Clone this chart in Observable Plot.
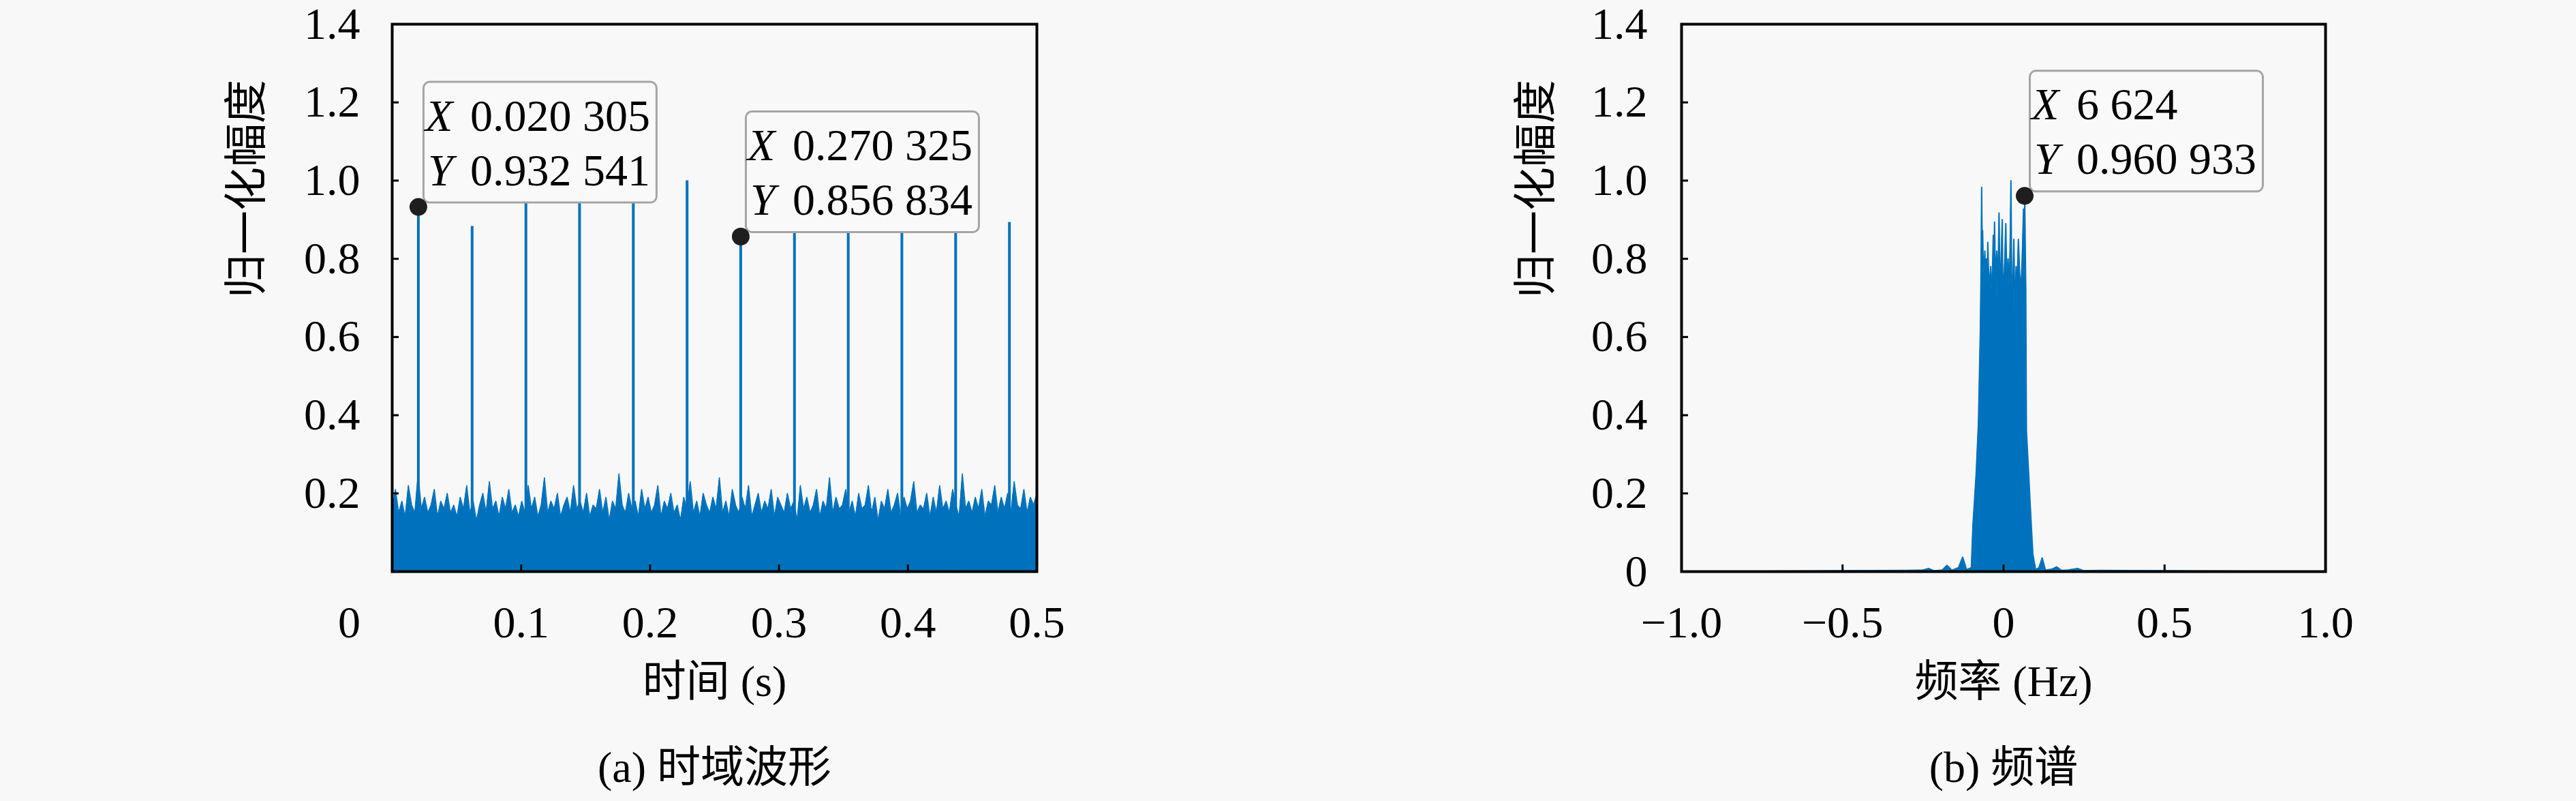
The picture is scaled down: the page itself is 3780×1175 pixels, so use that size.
<!DOCTYPE html>
<html><head><meta charset="utf-8">
<script src="https://cdn.jsdelivr.net/npm/d3@7"></script>
<script src="https://cdn.jsdelivr.net/npm/@observablehq/plot@0.6"></script>
<style>
body{margin:0;background:#f8f8f8;}
#wrap{display:flex;width:3780px;height:1175px;background:#f8f8f8;}
</style>
</head><body><div id="wrap"></div>
<script>
// ---------- data: panel (a) time-domain waveform ----------
const noiseAmp = [
0.16,0.21,0.15,0.18,0.14,0.22,0.17,0.15,0.25,0.16,0.19,0.15,0.17,0.21,0.14,0.18,0.16,0.20,0.15,0.17,
0.14,0.19,0.16,0.22,0.15,0.18,0.13,0.17,0.20,0.15,0.23,0.16,0.18,0.14,0.19,0.16,0.21,0.15,0.17,0.14,
0.18,0.15,0.22,0.16,0.19,0.14,0.17,0.24,0.15,0.18,0.16,0.20,0.14,0.17,0.19,0.15,0.22,0.16,0.18,0.15,
0.20,0.14,0.17,0.16,0.21,0.15,0.19,0.13,0.18,0.16,0.25,0.17,0.15,0.20,0.16,0.18,0.14,0.21,0.16,0.19,
0.15,0.17,0.22,0.14,0.18,0.16,0.20,0.15,0.17,0.13,0.19,0.16,0.23,0.15,0.18,0.14,0.20,0.17,0.15,0.19,
0.16,0.24,0.15,0.18,0.14,0.21,0.17,0.15,0.19,0.16,0.22,0.14,0.17,0.20,0.15,0.18,0.16,0.21,0.14,0.19,
0.17,0.15,0.20,0.16,0.18,0.13,0.22,0.16,0.19,0.15,0.17,0.21,0.14,0.18,0.16,0.24,0.15,0.19,0.16,0.17,
0.21,0.15,0.18,0.14,0.20,0.16,0.17,0.22,0.15,0.19,0.13,0.18,0.16,0.21,0.15,0.17,0.20,0.14,0.19,0.16,
0.18,0.23,0.15,0.17,0.16,0.20,0.14,0.19,0.15,0.22,0.16,0.18,0.15,0.21,0.17,0.14,0.25,0.16,0.18,0.15,
0.19,0.16,0.21,0.14,0.18,0.17,0.22,0.15,0.19,0.16,0.20,0.15,0.23,0.17,0.16,0.21,0.15,0.19,0.17,0.20
];
const noiseDuration = 0.5;
const spikeTime = [0.0203,0.0620,0.1037,0.1453,0.1870,0.2287,0.2703,0.3120,0.3537,0.3953,0.4370,0.4787];
const spikeAmp  = [0.9325,0.883,0.97,0.96,0.98,1.0,0.8568,0.95,0.93,0.96,0.94,0.893];
const annAX = [0.020305, 0.270325];
const annAY = [0.932541, 0.856834];
const annAXText = ["0.020 305", "0.270 325"];
const annAYText = ["0.932 541", "0.856 834"];
const xTicksA = [0, 0.1, 0.2, 0.3, 0.4, 0.5];
const yTicksA = [0.2, 0.4, 0.6, 0.8, 1.0, 1.2, 1.4];

// ---------- data: panel (b) spectrum ----------
const specF = [-1,-0.5,-0.3,-0.25,-0.233,-0.215,-0.19,-0.176,-0.16,-0.14,-0.127,-0.115,-0.1,-0.095,-0.085,-0.078,-0.072,-0.070,-0.068,-0.066,-0.065,-0.062,-0.058,-0.055,-0.053,-0.051,-0.049,-0.045,-0.040,-0.036,-0.032,-0.030,-0.028,-0.025,-0.021,-0.018,-0.014,-0.011,-0.008,-0.004,-0.002,0.001,0.004,0.007,0.010,0.014,0.018,0.021,0.023,0.025,0.028,0.032,0.035,0.039,0.042,0.046,0.050,0.054,0.058,0.062,0.064,0.0656,0.069,0.071,0.078,0.086,0.091,0.0995,0.11,0.12,0.13,0.15,0.165,0.18,0.2,0.23,0.25,0.3,0.5,1];
const specA = [0,0.002,0.003,0.004,0.008,0.002,0.004,0.016,0.003,0.01,0.037,0.005,0.01,0.12,0.25,0.38,0.62,0.76,0.983,0.78,0.872,0.74,0.82,0.72,0.80,0.70,0.842,0.72,0.78,0.70,0.86,0.75,0.894,0.74,0.82,0.70,0.917,0.72,0.78,0.90,0.66,0.75,0.80,0.89,0.74,0.80,0.73,0.86,1.0,0.76,0.70,0.85,0.66,0.78,0.72,0.85,0.76,0.72,0.80,0.927,0.78,0.961,0.72,0.36,0.25,0.12,0.045,0.005,0.01,0.035,0.004,0.006,0.012,0.003,0.004,0.008,0.002,0.003,0.002,0];
const annBX = [0.0656];
const annBY = [0.960933];
const annBXText = ["6 624"];
const annBYText = ["0.960 933"];
const xTicksB = [-1, -0.5, 0, 0.5, 1];
const yTicksB = [0, 0.2, 0.4, 0.6, 0.8, 1.0, 1.2, 1.4];

// ---------- drawing ----------
const blue = "#0072BD";
const font = "'Liberation Serif','Noto Sans CJK SC',serif";
const fmtY = d => d === 0 ? "0" : d.toFixed(1);
const fmtXA = d => d === 0 ? "0" : d.toFixed(1);
const fmtXB = d => d === 0 ? "0" : (d < 0 ? "\u2212" : "") + Math.abs(d).toFixed(1);

const noiseData = noiseAmp.map((a, i) => ({t: i * noiseDuration / (noiseAmp.length - 1), a}));
const spikes = spikeTime.map((t, i) => ({t, a: spikeAmp[i]}));
const annA = annAX.map((x, i) => ({x, y: annAY[i], xs: annAXText[i], ys: annAYText[i]}));
const spec = specF.map((f, i) => ({f, a: specA[i]}));
const annB = annBX.map((x, i) => ({x, y: annBY[i], xs: annBXText[i], ys: annBYText[i]}));

function annotationMarks(ann) {
  return [
    Plot.rect(ann, {x1: "x", x2: "x", y1: "y", y2: "y", insetLeft: 8, insetRight: -350,
      insetTop: -183, insetBottom: 6, rx: 9, fill: "#f9f9f9", stroke: "#a5a5a5", strokeWidth: 3}),
    Plot.dot(ann, {x: "x", y: "y", r: 13, fill: "#1e1e1e"}),
    Plot.text(ann, {x: "x", y: "y", text: () => "X", fontStyle: "italic", dx: 10, dy: -112,
      textAnchor: "start", lineAnchor: "bottom", fontSize: 66}),
    Plot.text(ann, {x: "x", y: "y", text: () => "Y", fontStyle: "italic", dx: 14, dy: -32,
      textAnchor: "start", lineAnchor: "bottom", fontSize: 66}),
    Plot.text(ann, {x: "x", y: "y", text: "xs", dx: 76, dy: -112,
      textAnchor: "start", lineAnchor: "bottom", fontSize: 66}),
    Plot.text(ann, {x: "x", y: "y", text: "ys", dx: 76, dy: -32,
      textAnchor: "start", lineAnchor: "bottom", fontSize: 66})
  ];
}

function titleMarks(xTitle, yTitle, caption) {
  return [
    Plot.text([xTitle], {text: d => d, frameAnchor: "bottom", dy: 162, lineAnchor: "middle", fontSize: 64}),
    Plot.text([caption], {text: d => d, frameAnchor: "bottom", dy: 288, lineAnchor: "middle", fontSize: 64}),
    Plot.text([yTitle], {text: d => d, frameAnchor: "left", dx: -213, rotate: -90, lineAnchor: "middle", fontSize: 64})
  ];
}

const common = {
  width: 1890, height: 1175, marginTop: 35, marginBottom: 337,
  y: {domain: [0, 1.4]},
  style: {fontFamily: font, fontSize: "66px", background: "#f8f8f8", color: "black", overflow: "visible"}
};

const plotA = Plot.plot({
  ...common,
  marginLeft: 575, marginRight: 369,
  x: {domain: [0, 0.5]},
  marks: [
    Plot.areaY(noiseData, {x: "t", y: "a", fill: blue, curve: "linear"}),
    Plot.lineY(noiseData, {x: "t", y: "a", stroke: blue, strokeWidth: 1.5}),
    Plot.ruleX(spikes, {x: "t", y1: 0, y2: "a", stroke: blue, strokeWidth: 4}),
    Plot.frame({stroke: "black", strokeWidth: 4}),
    Plot.tickX(xTicksA, {x: d => d, insetTop: 793, stroke: "black", strokeWidth: 3}),
    Plot.tickY(yTicksA, {y: d => d, insetRight: 936, stroke: "black", strokeWidth: 3}),
    Plot.axisY(yTicksA, {tickSize: 0, tickPadding: 47, tickFormat: fmtY, label: null}),
    Plot.axisX(xTicksA.filter(d => d > 0), {tickSize: 0, tickPadding: 50, tickFormat: fmtXA, label: null}),
    Plot.axisX([0], {tickSize: 0, tickPadding: 50, tickFormat: fmtXA, dx: -63, label: null}),
    ...annotationMarks(annA),
    ...titleMarks("时间 (s)", "归一化幅度", "(a) 时域波形")
  ]
});

const plotB = Plot.plot({
  ...common,
  marginLeft: 577, marginRight: 368,
  x: {domain: [-1, 1]},
  marks: [
    Plot.areaY(spec, {x: "f", y: "a", fill: blue, curve: "linear"}),
    Plot.lineY(spec, {x: "f", y: "a", stroke: blue, strokeWidth: 2}),
    Plot.frame({stroke: "black", strokeWidth: 4}),
    Plot.tickX(xTicksB, {x: d => d, insetTop: 793, stroke: "black", strokeWidth: 3}),
    Plot.tickY(yTicksB, {y: d => d, insetRight: 935, stroke: "black", strokeWidth: 3}),
    Plot.axisY(yTicksB, {tickSize: 0, tickPadding: 50, tickFormat: fmtY, label: null}),
    Plot.axisX(xTicksB, {tickSize: 0, tickPadding: 50, tickFormat: fmtXB, label: null}),
    ...annotationMarks(annB),
    ...titleMarks("频率 (Hz)", "归一化幅度", "(b) 频谱")
  ]
});

const wrap = document.getElementById("wrap");
wrap.appendChild(plotA);
wrap.appendChild(plotB);
</script>
</body></html>
